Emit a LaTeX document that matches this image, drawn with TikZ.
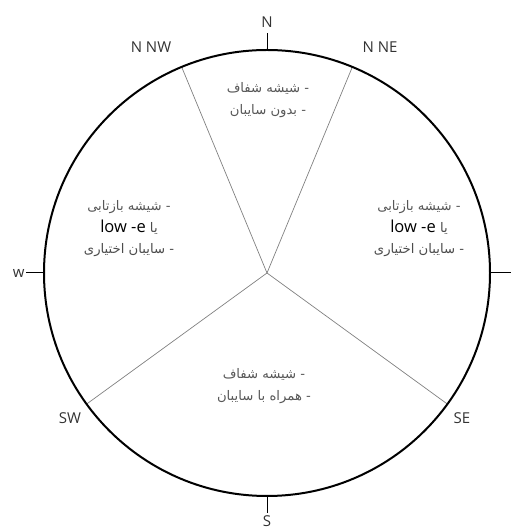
\documentclass[tikz,border=0pt]{standalone}
\usepackage{fontspec}
\setmainfont{Open Sans}
\newfontfamily\arabicfont[Script=Arabic]{DejaVu Sans}
\TeXXeTstate=1

\begin{document}
\begin{tikzpicture}[x=1pt, y=1pt, font=\fontsize{15}{17}\selectfont]
    \tikzset{dir label/.style={text=black!80, inner sep=1pt},
             zone text/.style={text=black!66, align=center, font=\arabicfont\fontsize{13.2}{21.5}\selectfont},
             divider/.style={draw=black!50, line width=0.7pt}}
    \useasboundingbox (-267, -256) rectangle (245, 273);

    % Centre and points on the rim
    \coordinate (c) at (0, 0);
    \coordinate (nne) at (67.5:223);
    \coordinate (nnw) at (112.5:223);
    \coordinate (sw) at (216:223);
    \coordinate (se) at (324:223);

    % Dividing lines
    \draw[divider] (c) -- (nne);
    \draw[divider] (c) -- (nnw);
    \draw[divider] (c) -- (sw);
    \draw[divider] (c) -- (se);

    % Outer circle and ticks
    \draw[line width=2pt] (c) circle (223);
    \coordinate (n) at (90:223);
    \coordinate (w) at (180:223);
    \coordinate (e) at (0:223);
    \coordinate (s) at (270:223);
    \draw[line width=1pt] (n) -- (90:240);
    \draw[line width=1pt] (w) -- (180:241) node[dir label, left] (wl) {w};
    \draw[line width=1pt] (e) -- (0:244);
    \draw[line width=1pt] (s) -- (270:240);

    % Direction labels
    \node[dir label] (nl) at (0, 251) {N};
    \node[dir label] (nnwl) at (-116, 226) {N NW};
    \node[dir label] (nnel) at (113, 226) {N NE};
    \node[dir label] (swl) at (-197, -145) {SW};
    \node[dir label] (sel) at (195, -145) {SE};
    \node[dir label] (sl) at (0, -248) {S};

    % Zone notes
    \newcommand{\lowe}{{\normalfont\fontsize{16.5}{17}\selectfont\color{black!70}\beginL low -e\endL}}
    \node[zone text] (top) at (1, 173) {\beginR - شیشه شفاف\endR\\ \beginR - بدون سایبان\endR};
    \node[zone text] (left) at (-138, 44) {\beginR - شیشه بازتابی\endR\\ \beginR یا \lowe\endR\\ \beginR - سایبان اختیاری\endR};
    \node[zone text] (right) at (152, 44) {\beginR - شیشه بازتابی\endR\\ \beginR یا \lowe\endR\\ \beginR - سایبان اختیاری\endR};
    \node[zone text] (bottom) at (-3, -113) {\beginR - شیشه شفاف\endR\\ \beginR - همراه با سایبان\endR};

\end{tikzpicture}
\end{document}
